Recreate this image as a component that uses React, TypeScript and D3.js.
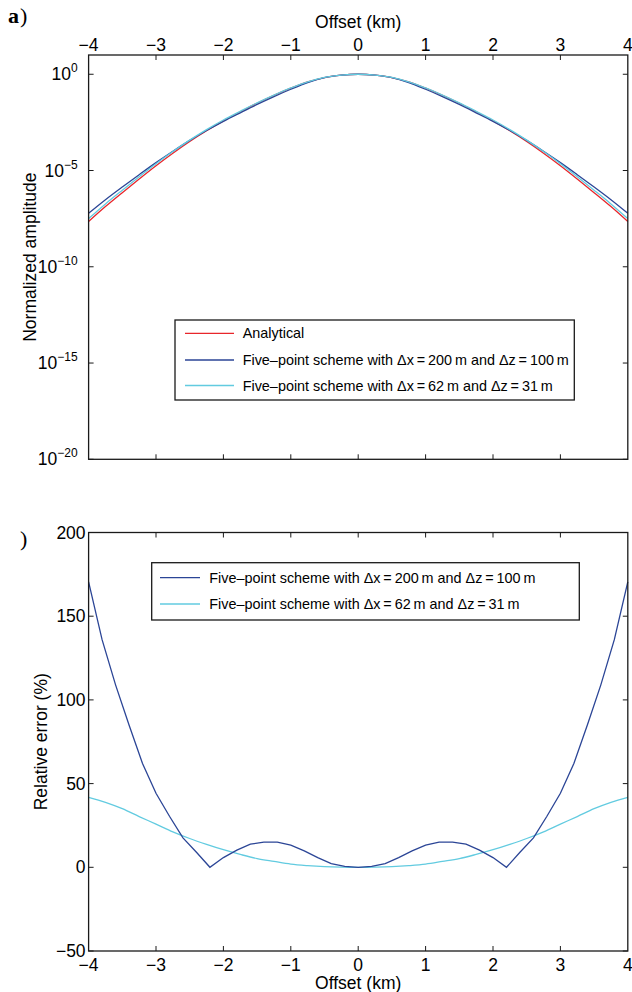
import React from "react";
import * as d3 from "d3";

// ---------- data ----------
const xTicks = [-4, -3, -2, -1, 0, 1, 2, 3, 4];
const xTickLabels = ["−4", "−3", "−2", "−1", "0", "1", "2", "3", "4"];
const logTicks = [0, -5, -10, -15, -20];
const errTicks = [-50, 0, 50, 100, 150, 200];
const errTickLabels = ["−50", "0", "50", "100", "150", "200"];

// top panel: offsets (km) and log10 of normalized amplitude
const offsetsA = [-4, -3.75, -3.5, -3.25, -3, -2.75, -2.5, -2.25, -2, -1.75, -1.5, -1.25, -1, -0.75, -0.5, -0.25, 0,
  0.25, 0.5, 0.75, 1, 1.25, 1.5, 1.75, 2, 2.25, 2.5, 2.75, 3, 3.25, 3.5, 3.75, 4];
const analyticalLog = [-7.65, -6.875, -6.15, -5.44, -4.75, -4.1, -3.49, -2.93, -2.42, -1.957, -1.507, -1.095, -0.72, -0.395, -0.17, -0.045, 0,
  -0.045, -0.17, -0.395, -0.72, -1.095, -1.507, -1.957, -2.42, -2.93, -3.49, -4.1, -4.75, -5.44, -6.15, -6.875, -7.65];
const coarseLog = [-7.22, -6.515, -5.855, -5.215, -4.59, -4.0, -3.435, -2.92, -2.445, -2.002, -1.567, -1.16, -0.78, -0.435, -0.18, -0.05, 0,
  -0.05, -0.18, -0.435, -0.78, -1.16, -1.567, -2.002, -2.445, -2.92, -3.435, -4.0, -4.59, -5.215, -5.855, -6.515, -7.22];
const fineLog = [-7.498, -6.733, -6.02, -5.325, -4.65, -4.016, -3.421, -2.874, -2.377, -1.925, -1.485, -1.08, -0.712, -0.391, -0.168, -0.045, 0,
  -0.045, -0.168, -0.391, -0.712, -1.08, -1.485, -1.925, -2.377, -2.874, -3.421, -4.016, -4.65, -5.325, -6.02, -6.733, -7.498];

// bottom panel: relative error (%)
const offsetsCoarse = [-4, -3.8, -3.6, -3.4, -3.2, -3, -2.8, -2.6, -2.4, -2.2, -2, -1.8, -1.6, -1.4, -1.2, -1, -0.8, -0.6, -0.4, -0.2, 0,
  0.2, 0.4, 0.6, 0.8, 1, 1.2, 1.4, 1.6, 1.8, 2, 2.2, 2.4, 2.6, 2.8, 3, 3.2, 3.4, 3.6, 3.8, 4];
const coarseErr = [170.5, 136, 109, 85, 62, 44.2, 30.5, 17.6, 9, 0, 5.8, 10.3, 13.8, 15, 15, 13.3, 9.8, 5.8, 2.2, 0.5, 0,
  0.5, 2.2, 5.8, 9.8, 13.3, 15, 15, 13.8, 10.3, 5.8, 0, 9, 17.6, 30.5, 44.2, 62, 85, 109, 136, 170.5];
const offsetsFine = offsetsA;
const fineErr = [41.8, 38.8, 35.0, 30.3, 25.8, 21.2, 17.2, 13.7, 10.5, 7.7, 5.2, 3.5, 1.9, 1.0, 0.4, 0.1, 0,
  0.1, 0.4, 1.0, 1.9, 3.5, 5.2, 7.7, 10.5, 13.7, 17.2, 21.2, 25.8, 30.3, 35.0, 38.8, 41.8];

const legendTop = [
  { label: "Analytical", color: "#e8262b" },
  { label: "Five–point scheme with Δx\u2009=\u2009200\u2009m and Δz\u2009=\u2009100\u2009m", color: "#2b4596" },
  { label: "Five–point scheme with Δx\u2009=\u200962\u2009m and Δz\u2009=\u200931\u2009m", color: "#62cbe0" },
];
const legendBottom = legendTop.slice(1);

// ---------- layout ----------
const W = 632, H = 992;
const L = 88.6, R = 627.8;
const topA = 55, botA = 459.3;
const topB = 532.5, botB = 951;
const FONT = "'Liberation Sans', Arial, Helvetica, sans-serif";
const TICK = 5;

export default function App() {
  const x = d3.scaleLinear().domain([-4, 4]).range([L, R]);
  const yA = d3.scaleLog().domain([1e-20, 1e1]).range([botA, topA]);
  const yB = d3.scaleLinear().domain([-50, 200]).range([botB, topB]);

  const lineA = (xs: number[], ls: number[]) =>
    d3.line<number>().x((_, i) => x(xs[i])).y((d) => yA(Math.pow(10, d))).curve(d3.curveMonotoneX)(ls) || "";
  const lineB = (xs: number[], vs: number[], curve: any) =>
    d3.line<number>().x((_, i) => x(xs[i])).y((d) => yB(d)).curve(curve)(vs) || "";

  const frame = (t: number, b: number) => (
    <rect x={L} y={t} width={R - L} height={b - t} fill="none" stroke="#1a1a1a" strokeWidth={1.3} />
  );
  const xTickMarks = (t: number, b: number) =>
    xTicks.slice(1, -1).map((v) => (
      <g key={"xt" + v}>
        <line x1={x(v)} x2={x(v)} y1={t} y2={t + TICK} stroke="#1a1a1a" strokeWidth={1} />
        <line x1={x(v)} x2={x(v)} y1={b} y2={b - TICK} stroke="#1a1a1a" strokeWidth={1} />
      </g>
    ));

  return (
    <svg width={W} height={H} style={{ position: "absolute", left: 0, top: 0, background: "#fff" }}
      fontFamily={FONT}>
      <rect x={0} y={0} width={W} height={H} fill="#fff" />

      {/* ---------- panel a ---------- */}
      <text x={8} y={23} fontFamily="'Liberation Serif', 'Times New Roman', serif" fontSize={22} fontWeight="bold">a</text>
      <text x={20} y={23} fontFamily="'Liberation Serif', 'Times New Roman', serif" fontSize={22}>)</text>
      <text x={(L + R) / 2} y={28} textAnchor="middle" fontSize={17.5}>Offset (km)</text>
      {xTicks.map((v, i) => (
        <text key={"ta" + v} x={x(v)} y={51} textAnchor="middle" fontSize={17.5}>{xTickLabels[i]}</text>
      ))}
      {xTickMarks(topA, botA)}
      {logTicks.map((e) => (
        <g key={"ly" + e}>
          <line x1={L} x2={L + TICK} y1={yA(Math.pow(10, e))} y2={yA(Math.pow(10, e))} stroke="#1a1a1a" strokeWidth={1} />
          <line x1={R} x2={R - TICK} y1={yA(Math.pow(10, e))} y2={yA(Math.pow(10, e))} stroke="#1a1a1a" strokeWidth={1} />
          <text x={L - 11} y={yA(Math.pow(10, e)) + 6} textAnchor="end" fontSize={17.5}>
            10<tspan fontSize={12} dy={-8}>{e === 0 ? "0" : "−" + Math.abs(e)}</tspan>
          </text>
        </g>
      ))}
      <text transform={`translate(36,${(topA + botA) / 2}) rotate(-90)`} textAnchor="middle" fontSize={17.5}>
        Normalized amplitude
      </text>
      <g fill="none" strokeWidth={1.3}>
        <path d={lineA(offsetsA, analyticalLog)} stroke={legendTop[0].color} />
        <path d={lineA(offsetsA, coarseLog)} stroke={legendTop[1].color} />
        <path d={lineA(offsetsA, fineLog)} stroke={legendTop[2].color} />
      </g>
      {frame(topA, botA)}
      <g>
        <rect x={175} y={320} width={399.3} height={80} fill="#fff" stroke="#1a1a1a" strokeWidth={1.3} />
        {legendTop.map((d, i) => {
          const yy = [333.3, 360, 385.5][i];
          return (
            <g key={"lt" + i}>
              <line x1={185} x2={234} y1={yy} y2={yy} stroke={d.color} strokeWidth={1.3} />
              <text x={242.7} y={yy + 5} fontSize={14.4}>{d.label}</text>
            </g>
          );
        })}
      </g>

      {/* ---------- panel b ---------- */}
      <text x={20} y={546} fontFamily="'Liberation Serif', 'Times New Roman', serif" fontSize={22}>)</text>
      {xTickMarks(topB, botB)}
      {xTicks.map((v, i) => (
        <text key={"tb" + v} x={x(v)} y={971} textAnchor="middle" fontSize={17.5}>{xTickLabels[i]}</text>
      ))}
      <text x={(L + R) / 2} y={989} textAnchor="middle" fontSize={17.5}>Offset (km)</text>
      {errTicks.map((v, i) => (
        <g key={"ey" + v}>
          <line x1={L} x2={L + TICK} y1={yB(v)} y2={yB(v)} stroke="#1a1a1a" strokeWidth={1} />
          <line x1={R} x2={R - TICK} y1={yB(v)} y2={yB(v)} stroke="#1a1a1a" strokeWidth={1} />
          <text x={L - 3} y={yB(v) + 6} textAnchor="end" fontSize={17.5}>{errTickLabels[i]}</text>
        </g>
      ))}
      <text transform={`translate(47,${(topB + botB) / 2}) rotate(-90)`} textAnchor="middle" fontSize={17.5}>
        Relative error (%)
      </text>
      <g fill="none" strokeWidth={1.3}>
        <path d={lineB(offsetsFine, fineErr, d3.curveMonotoneX)} stroke={legendTop[2].color} />
        <path d={lineB(offsetsCoarse, coarseErr, d3.curveLinear)} stroke={legendTop[1].color} />
      </g>
      {frame(topB, botB)}
      <g>
        <rect x={151.7} y={562.7} width={427.6} height={57.3} fill="#fff" stroke="#1a1a1a" strokeWidth={1.3} />
        {legendBottom.map((d, i) => {
          const yy = [577.7, 604][i];
          return (
            <g key={"lb" + i}>
              <line x1={160} x2={200} y1={yy} y2={yy} stroke={d.color} strokeWidth={1.3} />
              <text x={209.3} y={yy + 5} fontSize={14.4}>{d.label}</text>
            </g>
          );
        })}
      </g>
    </svg>
  );
}
